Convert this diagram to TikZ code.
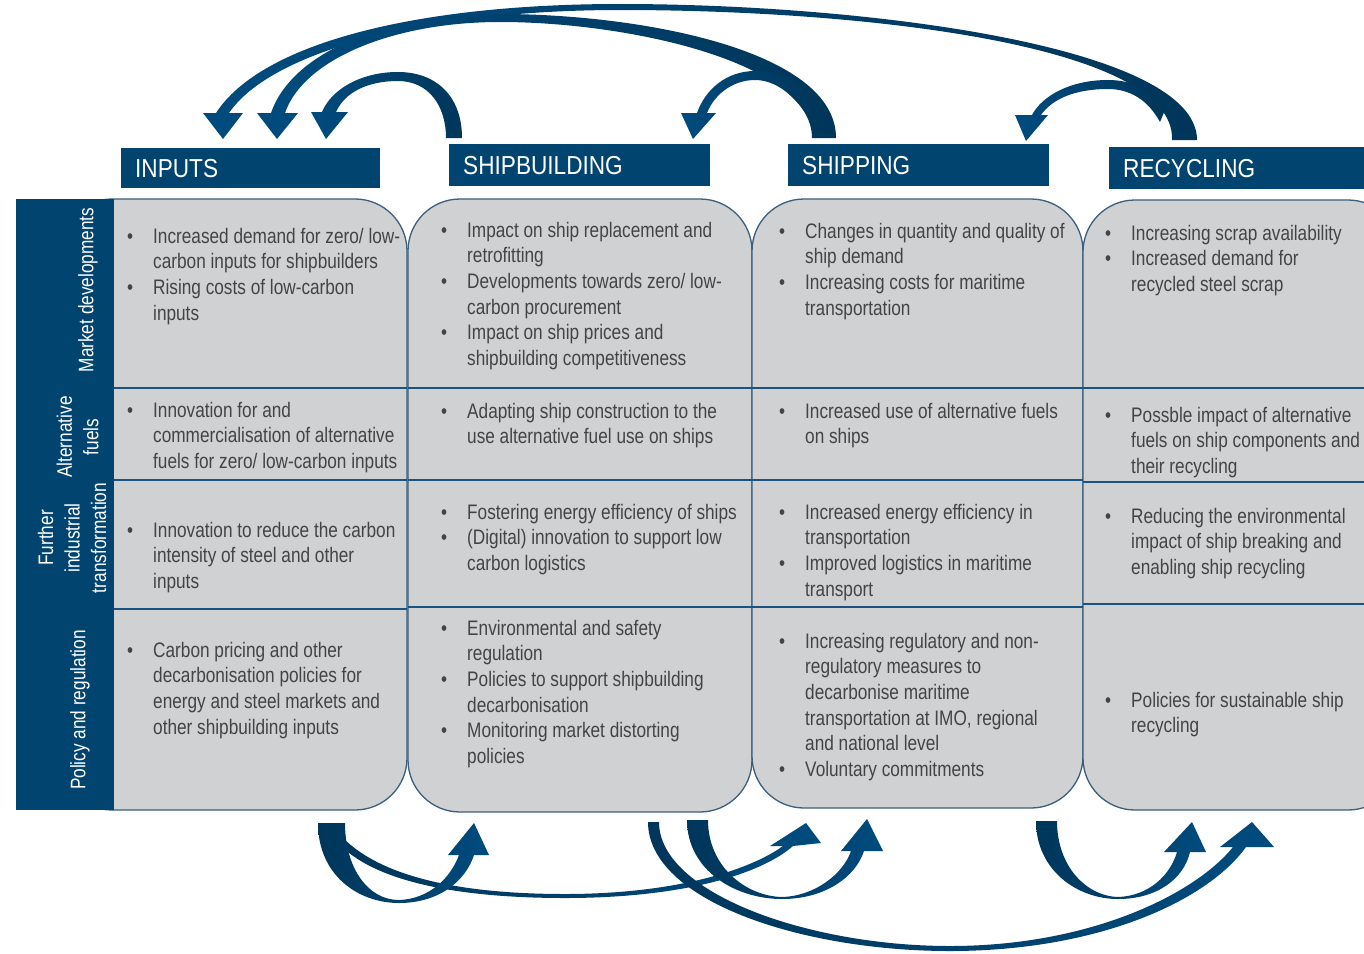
\documentclass[tikz,border=0pt]{standalone}
\usepackage{fontspec}
\setmainfont{Liberation Sans}[FakeStretch=0.82]
\newfontfamily\headfamily{Liberation Sans}[FakeStretch=0.87]

\definecolor{navy}{HTML}{00446F}
\definecolor{arrowdark}{HTML}{00365A}
\definecolor{arrowlight}{HTML}{004B7E}
\definecolor{cellgray}{HTML}{D0D1D3}
\definecolor{celledge}{HTML}{3B5F7C}
\definecolor{rowline}{HTML}{1A5282}
\definecolor{bodytext}{HTML}{444444}

\newcommand{\bodyfont}{\fontsize{21}{25.7}\selectfont}
\newcommand{\labelfont}{\fontsize{21}{26.5}\selectfont}
\newcommand{\titlefont}{\headfamily\fontsize{26}{30}\selectfont}
\newcommand{\itemrows}[1]{\begin{tabular}[t]{@{}p{26pt}@{}l@{}}#1\end{tabular}}
\newcommand{\bu}{\textbullet}

\tikzset{
  colbox/.style={fill=cellgray, draw=celledge, line width=1.3pt, rounded corners=52pt},
  rowrule/.style={draw=rowline, line width=2.2pt},
  headbox/.style={fill=navy, text=white, font=\titlefont, anchor=north west,
                  inner xsep=14pt, inner ysep=0pt, align=left},
  sidelabel/.style={text=white, font=\labelfont, rotate=90, align=center, inner sep=0pt},
  cellitem/.style={text=bodytext, font=\bodyfont, anchor=base west, inner sep=0pt},
  flowright/.style={left color=arrowdark, right color=arrowlight},
  flowleft/.style={left color=arrowlight, right color=arrowdark}
}

\begin{document}
\begin{tikzpicture}[x=1pt, y=-1pt]
\useasboundingbox (0,0) rectangle (1364,953);
\fill[white] (0,0) rectangle (1364,953);

% value-chain columns
\begin{scope}
\clip (0,0) rectangle (1364,953);
\path[colbox] (60,199) rectangle (407,810);
\path[colbox] (408,199) rectangle (752,812);
\path[colbox] (752,199) rectangle (1083,808);
\path[colbox] (1083,200) rectangle (1400,810);
\end{scope}

% row separators
\draw[rowrule] (114,388) -- (407,388) (114,480) -- (407,480) (114,609) -- (407,609);
\draw[rowrule] (408,388) -- (752,388) (408,480) -- (752,480) (408,607) -- (752,607);
\draw[rowrule] (752,388) -- (1083,388) (752,480) -- (1083,480) (752,607) -- (1083,607);
\draw[rowrule] (1083,388) -- (1364,388) (1083,482) -- (1364,482) (1083,604) -- (1364,604);

% row label band
\fill[navy] (16,199) rectangle (114,810);
\node[sidelabel] (lab-market) at (88,290) {Market developments};
\node[sidelabel] (lab-fuels) at (77.5,437) {Alternative\\fuels};
\node[sidelabel] (lab-transf) at (72,538) {Further\\industrial\\transformation};
\node[sidelabel] (lab-policy) at (80,710) {Policy and regulation};

% column headers
\node[headbox, text width=231pt, minimum height=40pt] (h-inputs) at (121,148) {INPUTS};
\node[headbox, text width=233pt, minimum height=42pt] (h-shipbuilding) at (449,144) {SHIPBUILDING};
\node[headbox, text width=233pt, minimum height=42pt] (h-shipping) at (788,144) {SHIPPING};
\node[headbox, text width=227pt, minimum height=42pt] (h-recycling) at (1109,147) {RECYCLING};

% inputs
\node[cellitem] (in-market) at (127,243) {\itemrows{\bu & Increased demand for zero/ low-\\ & carbon inputs for shipbuilders\\ \bu & Rising costs of low-carbon\\ & inputs}};
\node[cellitem] (in-fuels) at (127,417) {\itemrows{\bu & Innovation for and\\ & commercialisation of alternative\\ & fuels for zero/ low-carbon inputs}};
\node[cellitem] (in-transf) at (127,537) {\itemrows{\bu & Innovation to reduce the carbon\\ & intensity of steel and other\\ & inputs}};
\node[cellitem] (in-policy) at (127,657) {\itemrows{\bu & Carbon pricing and other\\ & decarbonisation policies for\\ & energy and steel markets and\\ & other shipbuilding inputs}};

% shipbuilding
\node[cellitem] (sb-market) at (441,237) {\itemrows{\bu & Impact on ship replacement and\\ & retrofitting\\ \bu & Developments towards zero/ low-\\ & carbon procurement\\ \bu & Impact on ship prices and\\ & shipbuilding competitiveness}};
\node[cellitem] (sb-fuels) at (441,418) {\itemrows{\bu & Adapting ship construction to the\\ & use alternative fuel use on ships}};
\node[cellitem] (sb-transf) at (441,519) {\itemrows{\bu & Fostering energy efficiency of ships\\ \bu & (Digital) innovation to support low\\ & carbon logistics}};
\node[cellitem] (sb-policy) at (441,635) {\itemrows{\bu & Environmental and safety\\ & regulation\\ \bu & Policies to support shipbuilding\\ & decarbonisation\\ \bu & Monitoring market distorting\\ & policies}};

% shipping
\node[cellitem] (sh-market) at (779,238) {\itemrows{\bu & Changes in quantity and quality of\\ & ship demand\\ \bu & Increasing costs for maritime\\ & transportation}};
\node[cellitem] (sh-fuels) at (779,418) {\itemrows{\bu & Increased use of alternative fuels\\ & on ships}};
\node[cellitem] (sh-transf) at (779,519) {\itemrows{\bu & Increased energy efficiency in\\ & transportation\\ \bu & Improved logistics in maritime\\ & transport}};
\node[cellitem] (sh-policy) at (779,648) {\itemrows{\bu & Increasing regulatory and non-\\ & regulatory measures to\\ & decarbonise maritime\\ & transportation at IMO, regional\\ & and national level\\ \bu & Voluntary commitments}};

% recycling
\node[cellitem] (rc-market) at (1105,240) {\itemrows{\bu & Increasing scrap availability\\ \bu & Increased demand for\\ & recycled steel scrap}};
\node[cellitem] (rc-fuels) at (1105,422) {\itemrows{\bu & Possble impact of alternative\\ & fuels on ship components and\\ & their recycling}};
\node[cellitem] (rc-transf) at (1105,523) {\itemrows{\bu & Reducing the environmental\\ & impact of ship breaking and\\ & enabling ship recycling}};
\node[cellitem] (rc-policy) at (1105,707) {\itemrows{\bu & Policies for sustainable ship\\ & recycling}};

% feedback arrows above the headers
% recycling -> inputs
\shade[flowleft] (1197,140) .. controls (1197,45) and (860,4) .. (620,4)
  .. controls (420,4) and (262,42) .. (216,113) -- (203,113) -- (223,139) -- (243,113) -- (229,113)
  .. controls (272,50) and (430,10) .. (620,10)
  .. controls (860,10) and (1176,44) .. (1172,140) -- cycle;
% shipping -> inputs
\shade[flowleft] (836,138) .. controls (836,50) and (640,14) .. (500,14)
  .. controls (385,14) and (292,52) .. (271,113) -- (257,113) -- (277,139) -- (298,113) -- (285,113)
  .. controls (303,60) and (392,22) .. (500,22)
  .. controls (628,22) and (812,62) .. (812,138) -- cycle;
% shipping -> shipbuilding
\shade[flowleft] (815,105) .. controls (800,78) and (778,71) .. (755,71)
  .. controls (726,71) and (705,90) .. (697,113) -- (681,113) -- (693,139) -- (716,113) -- (707,113)
  .. controls (715,93) and (734,80) .. (755,80)
  .. controls (776,80) and (796,96) .. (810,120) -- cycle;
% recycling -> shipping
\shade[flowleft] (1165,110) .. controls (1150,88) and (1130,80) .. (1108,80)
  .. controls (1070,80) and (1042,96) .. (1032,115) -- (1015,115) -- (1026,141) -- (1048,115) -- (1041,115)
  .. controls (1052,99) and (1075,89) .. (1108,89)
  .. controls (1130,89) and (1148,100) .. (1160,122) -- cycle;
% shipbuilding -> inputs
\shade[flowleft] (462,138) .. controls (462,95) and (435,72) .. (398,72)
  .. controls (360,72) and (331,90) .. (322,112) -- (311,112) -- (326,139) -- (348,112) -- (336,112)
  .. controls (345,92) and (368,81) .. (398,81)
  .. controls (428,81) and (446,105) .. (446,138) -- cycle;

% forward arrows below the columns
% inputs -> shipping
\shade[flowright] (340,845) .. controls (380,885) and (470,898) .. (565,898)
  .. controls (680,898) and (760,875) .. (793,846) -- (821,843) -- (806,823) -- (770,846) -- (783,846)
  .. controls (750,870) and (675,894) .. (565,894)
  .. controls (470,894) and (385,880) .. (343,838) -- cycle;
% inputs -> shipbuilding
\shade[flowright] (318,823) .. controls (318,875) and (358,903) .. (399,903)
  .. controls (440,903) and (466,880) .. (474,855) -- (489,855) -- (474,823) -- (448,855) -- (459,855)
  .. controls (451,877) and (430,899) .. (399,900)
  .. controls (368,900) and (345,868) .. (345,823) -- cycle;
% shipbuilding -> recycling
\shade[flowright] (648,822) .. controls (648,900) and (800,951) .. (950,951)
  .. controls (1100,951) and (1208,900) .. (1246,847) -- (1274,847) -- (1252,822) -- (1220,847) -- (1233,847)
  .. controls (1196,893) and (1092,946) .. (950,946)
  .. controls (808,946) and (659,893) .. (659,822) -- cycle;
% shipbuilding -> shipping
\shade[flowright] (687,820) .. controls (687,870) and (735,899) .. (782,899)
  .. controls (826,899) and (856,876) .. (864,851) -- (883,851) -- (867,819) -- (841,851) -- (851,851)
  .. controls (843,874) and (815,896) .. (782,897)
  .. controls (745,896) and (708,866) .. (708,820) -- cycle;
% shipping -> recycling
\shade[flowright] (1036,821) .. controls (1036,870) and (1077,899) .. (1118,899)
  .. controls (1158,899) and (1184,878) .. (1190,852) -- (1206,852) -- (1192,822) -- (1164,852) -- (1177,852)
  .. controls (1170,876) and (1148,896) .. (1118,897)
  .. controls (1086,896) and (1057,866) .. (1057,821) -- cycle;
\end{tikzpicture}
\end{document}
